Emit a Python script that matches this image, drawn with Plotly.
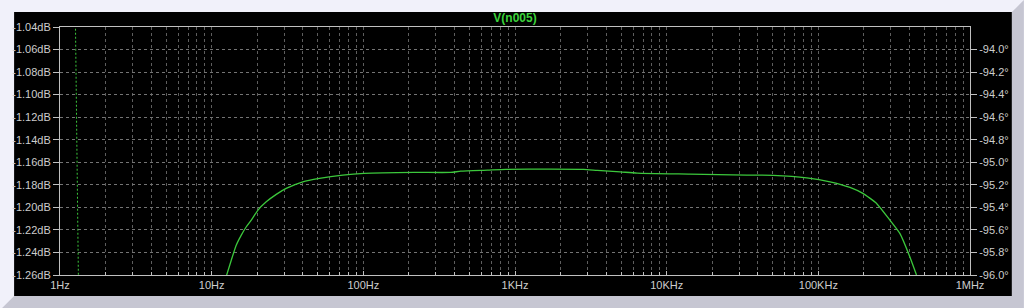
import plotly.graph_objects as go

# ---- data ----
mag_freq = [12.5, 13.48, 14.54, 15.68, 16.92, 18.25, 20.2, 22.9, 26.66, 31.0, 39.9, 51.3,
            73.2, 101, 216, 377, 439, 658, 869, 1718, 2832, 3483, 4950, 6380, 14230,
            33800, 50350, 83900, 119400, 161600, 196600, 242200, 296300, 344700, 401000,
            443800]
mag_db = [-1.2609, -1.2467, -1.2334, -1.2246, -1.2172, -1.2113, -1.2024, -1.1951, -1.1885,
          -1.1832, -1.1773, -1.1743, -1.1714, -1.1699, -1.169, -1.169, -1.1679, -1.167,
          -1.1663, -1.1661, -1.1663, -1.1672, -1.1685, -1.1696, -1.1705, -1.1714, -1.1716,
          -1.1738, -1.1773, -1.1823, -1.1876, -1.1965, -1.2113, -1.2231, -1.2438, -1.26]

phase_freq = [1.265, 1.29, 1.322]
phase_deg = [-93.78, -94.9, -96.02]

x_tickvals = [1, 10, 100, 1e3, 1e4, 1e5, 1e6]
x_ticktext = ["1Hz", "10Hz", "100Hz", "1KHz", "10KHz", "100KHz", "1MHz"]
x_minor = [m * d for d in [1, 10, 100, 1e3, 1e4, 1e5] for m in range(2, 10)]

y_tickvals = [-1.26, -1.24, -1.22, -1.20, -1.18, -1.16, -1.14, -1.12, -1.10, -1.08, -1.06, -1.04]
y_ticktext = ["%.2fdB" % v for v in y_tickvals]
y2_tickvals = [-96.0, -95.8, -95.6, -95.4, -95.2, -95.0, -94.8, -94.6, -94.4, -94.2, -94.0]
y2_ticktext = ["%.1f°" % v for v in y2_tickvals]

title_text = "V(n005)"

# ---- style ----
GREEN = "#3cc83c"
LABEL = "#cdcdcd"
FRAME = "#c0c0c0"
HGRID = "#747474"
VGRID = "#5e5e5e"
FONT = "Liberation Sans"

W, H = 1024, 308
ML, MR, MT, MB = 58, 54, 27, 33
PW, PH = W - ML - MR, H - MT - MB


def px_x(p):
    return (p - ML) / PW


def px_y(p):
    return 1 - (p - MT) / PH


fig = go.Figure()
fig.add_trace(go.Scatter(x=mag_freq, y=mag_db, mode="lines",
                         line=dict(color=GREEN, width=1.3, shape="spline", smoothing=0.5),
                         showlegend=False, hoverinfo="skip"))
fig.add_trace(go.Scatter(x=phase_freq, y=phase_deg, mode="lines", yaxis="y2",
                         line=dict(color=GREEN, width=1, dash="2px,2px"),
                         showlegend=False, hoverinfo="skip"))

shapes = [
    # black panel
    dict(type="rect", xref="paper", yref="paper", layer="below",
         x0=px_x(12), x1=px_x(1012), y0=px_y(296), y1=px_y(12),
         fillcolor="black", line=dict(width=0)),
    # gray bevel bottom/right
    dict(type="path", xref="paper", yref="paper", layer="below",
         path="M %f,%f L %f,%f L %f,%f L %f,%f L %f,%f L %f,%f Z" % (
             px_x(0), px_y(308), px_x(12), px_y(296), px_x(1012), px_y(296),
             px_x(1012), px_y(12), px_x(1024), px_y(0), px_x(1024), px_y(308)),
         fillcolor="#c6c6d2", line=dict(width=0)),
]

axis_font = dict(family=FONT, size=11, color=LABEL)

fig.update_layout(
    width=W, height=H,
    margin=dict(l=ML, r=MR, t=MT, b=MB, pad=0),
    paper_bgcolor="#f1f1fa",
    plot_bgcolor="black",
    shapes=shapes,
    title=dict(text=title_text, x=0.5, xref="paper", xanchor="center",
               y=1 - 18 / H, yref="container", yanchor="middle",
               font=dict(family=FONT, size=12, color="#3cd23c", weight="bold")),
    xaxis=dict(type="log", range=[0, 6], tickvals=x_tickvals, ticktext=x_ticktext,
               showgrid=True, gridcolor=VGRID, griddash="3px,3px", gridwidth=1,
               showline=True, linecolor=FRAME, linewidth=1, mirror=True,
               ticks="inside", ticklen=4, tickcolor=FRAME, tickfont=axis_font,
               minor=dict(tickvals=x_minor, showgrid=True, gridcolor=VGRID,
                          griddash="3px,3px", ticks="inside", ticklen=3, tickcolor=FRAME),
               zeroline=False, fixedrange=True),
    yaxis=dict(range=[-1.26, -1.04], tickvals=y_tickvals, ticktext=y_ticktext,
               showgrid=True, gridcolor=HGRID, griddash="3px,3px", gridwidth=1,
               showline=True, linecolor=FRAME, linewidth=1, mirror=True,
               ticks="outside", ticklen=6, tickcolor=FRAME, tickfont=axis_font,
               ticklabelstandoff=0, zeroline=False, fixedrange=True),
    yaxis2=dict(range=[-96.0, -93.8], overlaying="y", side="right",
                tickvals=y2_tickvals, ticktext=y2_ticktext, showgrid=False,
                ticks="outside", ticklen=6, tickcolor=FRAME, tickfont=axis_font,
                ticklabelstandoff=0, zeroline=False, showline=False, fixedrange=True),
)

fig.write_html("out.html")
